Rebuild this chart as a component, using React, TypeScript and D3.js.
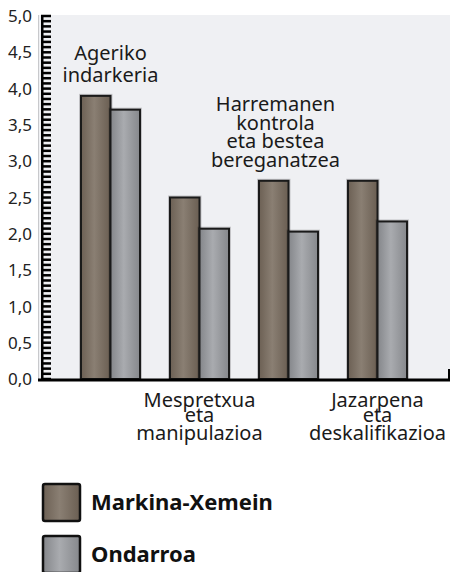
import React from "react";
import * as d3 from "d3";

const categories = [
  ["Ageriko", "indarkeria"],
  ["Mespretxua", "eta", "manipulazioa"],
  ["Harremanen", "kontrola", "eta bestea", "bereganatzea"],
  ["Jazarpena", "eta", "deskalifikazioa"],
];
const seriesNames = ["Markina-Xemein", "Ondarroa"];
const markina = [3.9, 2.5, 2.73, 2.73];
const ondarroa = [3.71, 2.07, 2.03, 2.17];
const yTickLabels = ["0,0", "0,5", "1,0", "1,5", "2,0", "2,5", "3,0", "3,5", "4,0", "4,5", "5,0"];

const W = 452;
const H = 572;
const plotL = 38;
const plotR = 450;
const plotT = 15;
const axisY = 379;
const FONT = "'Noto Sans', 'Open Sans', sans-serif";

export default function App() {
  const keys = categories.map((c) => c.join(" "));
  const x = d3
    .scaleBand<string>()
    .domain(keys)
    .range([plotL, plotR])
    .paddingInner(0.337)
    .paddingOuter(0.483);
  const xs = d3.scaleBand<number>().domain([0, 1]).range([0, x.bandwidth()]);
  const y = d3.scaleLinear().domain([0, 5]).range([axisY, 16]);
  const series = [markina, ondarroa];
  const grads = ["gM", "gO"];
  const minorTicks = d3.range(0, 71).map((i) => i / 14);

  return (
    <svg
      width={W}
      height={H}
      style={{ position: "absolute", left: 0, top: 0, background: "#fff" }}
    >
      <defs>
        <linearGradient id="gM" x1="0" x2="1" y1="0" y2="0">
          <stop offset="0%" stopColor="#6c6054" />
          <stop offset="45%" stopColor="#8a7f73" />
          <stop offset="100%" stopColor="#6a5e52" />
        </linearGradient>
        <linearGradient id="gO" x1="0" x2="1" y1="0" y2="0">
          <stop offset="0%" stopColor="#84868a" />
          <stop offset="45%" stopColor="#a9abaf" />
          <stop offset="100%" stopColor="#86888c" />
        </linearGradient>
      </defs>
      <rect x={plotL} y={plotT} width={plotR - plotL} height={axisY - plotT} fill="#eff0f3" />
      <rect x={plotL} y={plotT} width={1} height={axisY - plotT} fill="#c8c9cc" />

      {/* bars */}
      {keys.map((k, i) =>
        series.map((s, j) => {
          const bx = (x(k) as number) + (xs(j) as number);
          const by = y(s[i]);
          return (
            <g key={k + j}>
              <rect
                x={bx}
                y={by}
                width={xs.bandwidth()}
                height={axisY - by}
                fill="none"
                stroke="#000"
                strokeOpacity={0.18}
                strokeWidth={4}
              />
              <rect
                x={bx}
                y={by}
                width={xs.bandwidth()}
                height={axisY - by}
                fill={`url(#${grads[j]})`}
                stroke="#1a1a1a"
                strokeWidth={2}
              />
            </g>
          );
        })
      )}

      {/* y axis */}
      <g>
        <rect x={41} y={plotT} width={2.5} height={axisY - plotT} fill="#000" />
        {minorTicks.map((t, i) => (
          <rect key={"t" + i} x={41} y={y(t) - 1.25} width={10} height={2.5} fill="#000" />
        ))}
      </g>
      {yTickLabels.map((lab, i) => (
        <text
          key={lab}
          x={32}
          y={y(i * 0.5)}
          dy="0.36em"
          textAnchor="end"
          fontFamily={FONT}
          fontSize={17}
          fill="#222"
        >
          {lab}
        </text>
      ))}

      {/* x axis */}
      <rect x={plotL} y={axisY - 0.5} width={plotR - plotL} height={3} fill="#000" />
      <rect x={448} y={369} width={2} height={axisY - 369 + 2} fill="#000" />

      {/* category labels */}
      {categories.map((lines, i) => {
        const cx = (x(keys[i]) as number) + x.bandwidth() / 2;
        const above = i % 2 === 0;
        if (above) {
          const top = y(Math.max(markina[i], ondarroa[i]));
          const gap = lines.length > 2 ? 18.6 : 22;
          const dx = i === 2 ? -13 : 0;
          return (
            <text key={i} textAnchor="middle" fontFamily={FONT} fontSize={20} fill="#1a1a1a">
              {lines.map((l, li) => (
                <tspan key={li} x={cx + dx} y={top - 14 - (lines.length - 1 - li) * gap}>
                  {l}
                </tspan>
              ))}
            </text>
          );
        }
        const offs = [28, 43, 61];
        return (
          <text key={i} textAnchor="middle" fontFamily={FONT} fontSize={20} fill="#1a1a1a">
            {lines.map((l, li) => (
              <tspan key={li} x={cx} y={axisY + offs[li]}>
                {l}
              </tspan>
            ))}
          </text>
        );
      })}

      {/* legend */}
      {seriesNames.map((n, j) => (
        <g key={n} transform={`translate(0, ${j * 52})`}>
          <rect x={43} y={484} width={37} height={37} rx={2} fill={`url(#${grads[j]})`} stroke="#111" strokeWidth={2.5} />
          <text x={91} y={502} dy="0.36em" fontFamily={FONT} fontSize={22} fontWeight="bold" fill="#111">
            {n}
          </text>
        </g>
      ))}
    </svg>
  );
}
